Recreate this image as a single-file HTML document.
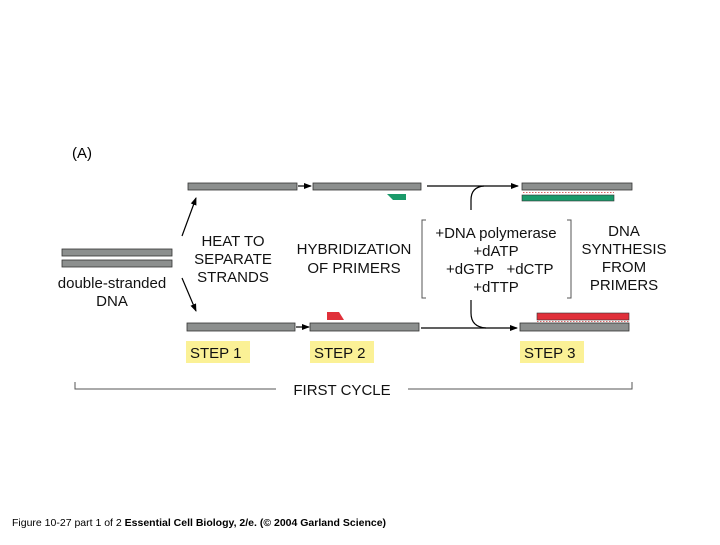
<!DOCTYPE html>
<html><head><style>
body{margin:0;background:#fff;}
svg text{font-family:"Liberation Sans",sans-serif;}
</style></head><body>
<svg width="720" height="540" viewBox="0 0 720 540" xmlns="http://www.w3.org/2000/svg">
<defs><marker id="a" markerWidth="8" markerHeight="8" refX="7" refY="4" orient="auto" markerUnits="userSpaceOnUse"><path d="M0,1 L8,4 L0,7 Z" fill="#000"/></marker></defs>
<text x="72" y="158" font-size="15">(A)</text>
<g fill="#8c8f8e" stroke="#333" stroke-width="0.8">
<rect x="62" y="249" width="110" height="7"/>
<rect x="62" y="260" width="110" height="7"/>
<rect x="188" y="183" width="109" height="7"/>
<rect x="313" y="183" width="108" height="7"/>
<rect x="522" y="183" width="110" height="7"/>
<rect x="187" y="323" width="108" height="8"/>
<rect x="310" y="323" width="109" height="8"/>
<rect x="520" y="323" width="109" height="8"/>
</g>
<rect x="522" y="195" width="92" height="6" fill="#1a9a6a" stroke="#333" stroke-width="0.6"/>
<rect x="537" y="313" width="92" height="7" fill="#e0303a" stroke="#333" stroke-width="0.6"/>
<path d="M387,194 L406,194 L406,200 L393,200 Z" fill="#1a9a6a"/>
<path d="M327,312 L339,312 L344,320 L327,320 Z" fill="#e0303a"/>
<g stroke="#c33" stroke-width="0.8" stroke-dasharray="1.5,1.5"><line x1="523" y1="192.5" x2="614" y2="192.5"/><line x1="537" y1="321.5" x2="629" y2="321.5"/></g>
<g stroke="#000" stroke-width="1.2" fill="none">
<line x1="298" y1="186" x2="311" y2="186" marker-end="url(#a)"/>
<line x1="296" y1="327" x2="309" y2="327" marker-end="url(#a)"/>
<line x1="427" y1="186" x2="518" y2="186" marker-end="url(#a)"/>
<line x1="421" y1="328" x2="517" y2="328" marker-end="url(#a)"/>
<path d="M471,210 L471,200 Q471,187 484,186"/>
<path d="M471,300 L471,313 Q471,327 486,328"/>
<line x1="182" y1="236" x2="196" y2="198" marker-end="url(#a)"/>
<line x1="182" y1="278" x2="196" y2="311" marker-end="url(#a)"/>
</g>
<g stroke="#555" stroke-width="1" fill="none">
<path d="M426,220 L422,220 L422,298 L426,298"/>
<path d="M567,220 L571,220 L571,298 L567,298"/>
<path d="M75,382 L75,389 L276,389 M408,389 L632,389 L632,382"/>
</g>
<g font-size="15" text-anchor="middle" fill="#111">
<text x="233" y="246">HEAT TO</text><text x="233" y="264">SEPARATE</text><text x="233" y="282">STRANDS</text>
<text x="354" y="254">HYBRIDIZATION</text><text x="354" y="273">OF PRIMERS</text>
<text x="496" y="238">+DNA polymerase</text><text x="496" y="256">+dATP</text><text x="470" y="274">+dGTP</text><text x="530" y="274">+dCTP</text><text x="496" y="292">+dTTP</text>
<text x="624" y="236">DNA</text><text x="624" y="254">SYNTHESIS</text><text x="624" y="272">FROM</text><text x="624" y="290">PRIMERS</text>
<text x="112" y="288">double-stranded</text><text x="112" y="306">DNA</text>
<text x="342" y="395">FIRST CYCLE</text>
</g>
<g fill="#fbf196"><rect x="186" y="341" width="64" height="22"/><rect x="310" y="341" width="64" height="22"/><rect x="520" y="341" width="64" height="22"/></g>
<g font-size="15" fill="#111"><text x="190" y="358">STEP 1</text><text x="314" y="358">STEP 2</text><text x="524" y="358">STEP 3</text></g>
<text x="12" y="526" font-size="10.5" fill="#000">Figure 10-27 part 1 of 2  <tspan font-weight="bold">Essential Cell Biology, 2/e. (© 2004 Garland Science)</tspan></text>
</svg>
</body></html>
